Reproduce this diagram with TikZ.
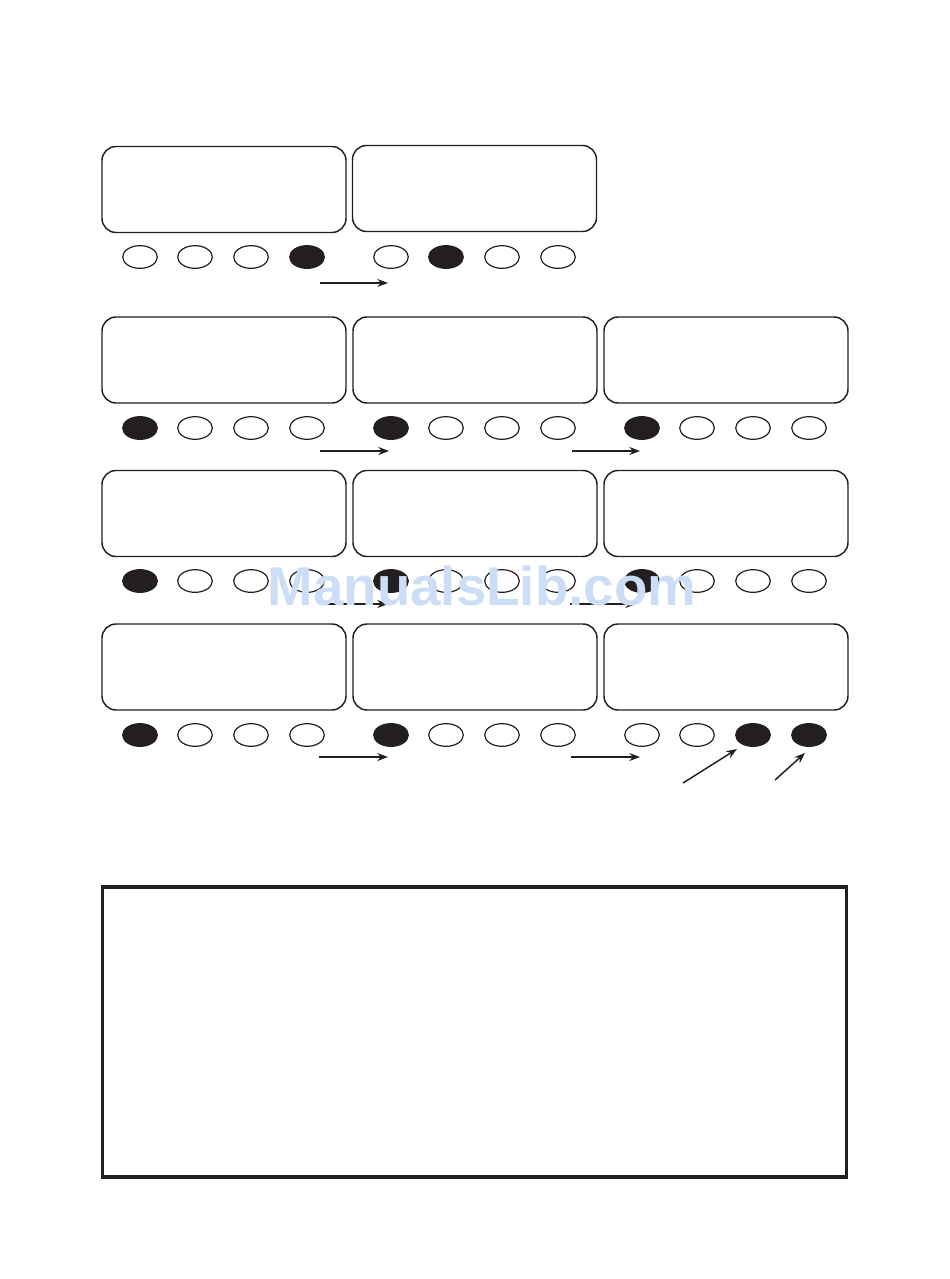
\documentclass[tikz,border=0pt]{standalone}
\usepackage{fontspec}
\usetikzlibrary{arrows.meta,shapes.geometric}
\definecolor{ink}{RGB}{35,31,32}
\definecolor{wm}{RGB}{204,222,246}
\newfontfamily\wmfont{Liberation Sans}
\begin{document}
\begin{tikzpicture}[x=0.75pt,y=-0.75pt,
  disp/.style={draw=ink,line width=1.1pt,rounded corners=10.5pt,minimum width=183pt,minimum height=64.5pt,inner sep=0pt},
  led/.style={draw=ink,line width=0.9pt,ellipse,minimum width=26pt,minimum height=17pt,inner sep=0pt},
  ledon/.style={led,fill=ink},
  arr/.style={draw=ink,line width=1.1pt,-{Stealth[length=8pt,width=6pt]}}]
\useasboundingbox (0,0) rectangle (950,1279);
% row 1
\node[disp] (d11) at (224,189.5) {};
\node[disp] (d12) at (474.5,188.5) {};
% rows 2-4
\foreach \r/\y in {2/360,3/513.5,4/667}{
  \node[disp] (d\r1) at (224,\y) {};
  \node[disp] (d\r2) at (475,\y) {};
  \node[disp] (d\r3) at (726,\y) {};
}
% LEDs
\foreach \x/\s [count=\i] in {140/led,195/led,251/led,307/ledon,391/led,446/ledon,502/led,558/led}
  \node[\s] (l1\i) at (\x,257) {};
\foreach \x/\s [count=\i] in {140/ledon,195/led,251/led,307/led,391/ledon,446/led,502/led,558/led,642/ledon,697/led,753/led,809/led}
  \node[\s] (l2\i) at (\x,428) {};
\foreach \x/\s [count=\i] in {140/ledon,195/led,251/led,307/led,391/ledon,446/led,502/led,558/led,642/ledon,697/led,753/led,809/led}
  \node[\s] (l3\i) at (\x,581) {};
\foreach \x/\s [count=\i] in {140/ledon,195/led,251/led,307/led,391/ledon,446/led,502/led,558/led,642/led,697/led,753/ledon,809/ledon}
  \node[\s] (l4\i) at (\x,735) {};
% arrows
\coordinate (a1s) at (320,283); \coordinate (a1e) at (388,283);
\coordinate (a2s) at (320,451); \coordinate (a2e) at (389,451);
\coordinate (a3s) at (572,451); \coordinate (a3e) at (640,451);
\coordinate (a4s) at (322,604); \coordinate (a4e) at (388,604);
\coordinate (a5s) at (570,604); \coordinate (a5e) at (636,604);
\coordinate (a6s) at (319,757); \coordinate (a6e) at (388,757);
\coordinate (a7s) at (571,757); \coordinate (a7e) at (640,757);
\coordinate (a8s) at (683,783); \coordinate (a8e) at (737,749);
\coordinate (a9s) at (775,780); \coordinate (a9e) at (805,753);
\foreach \k in {1,...,9} \draw[arr] (a\k s) -- (a\k e);
% big box
\node[draw=ink,line width=2.6pt,minimum width=558pt,minimum height=217.5pt,inner sep=0pt] (panel) at (474.5,1032) {};
% watermark
\node[text=wm,font=\wmfont\bfseries\fontsize{41}{41}\selectfont,anchor=base,inner sep=0pt] (wmark) at (482,605) {ManualsLib.com};
\end{tikzpicture}
\end{document}
